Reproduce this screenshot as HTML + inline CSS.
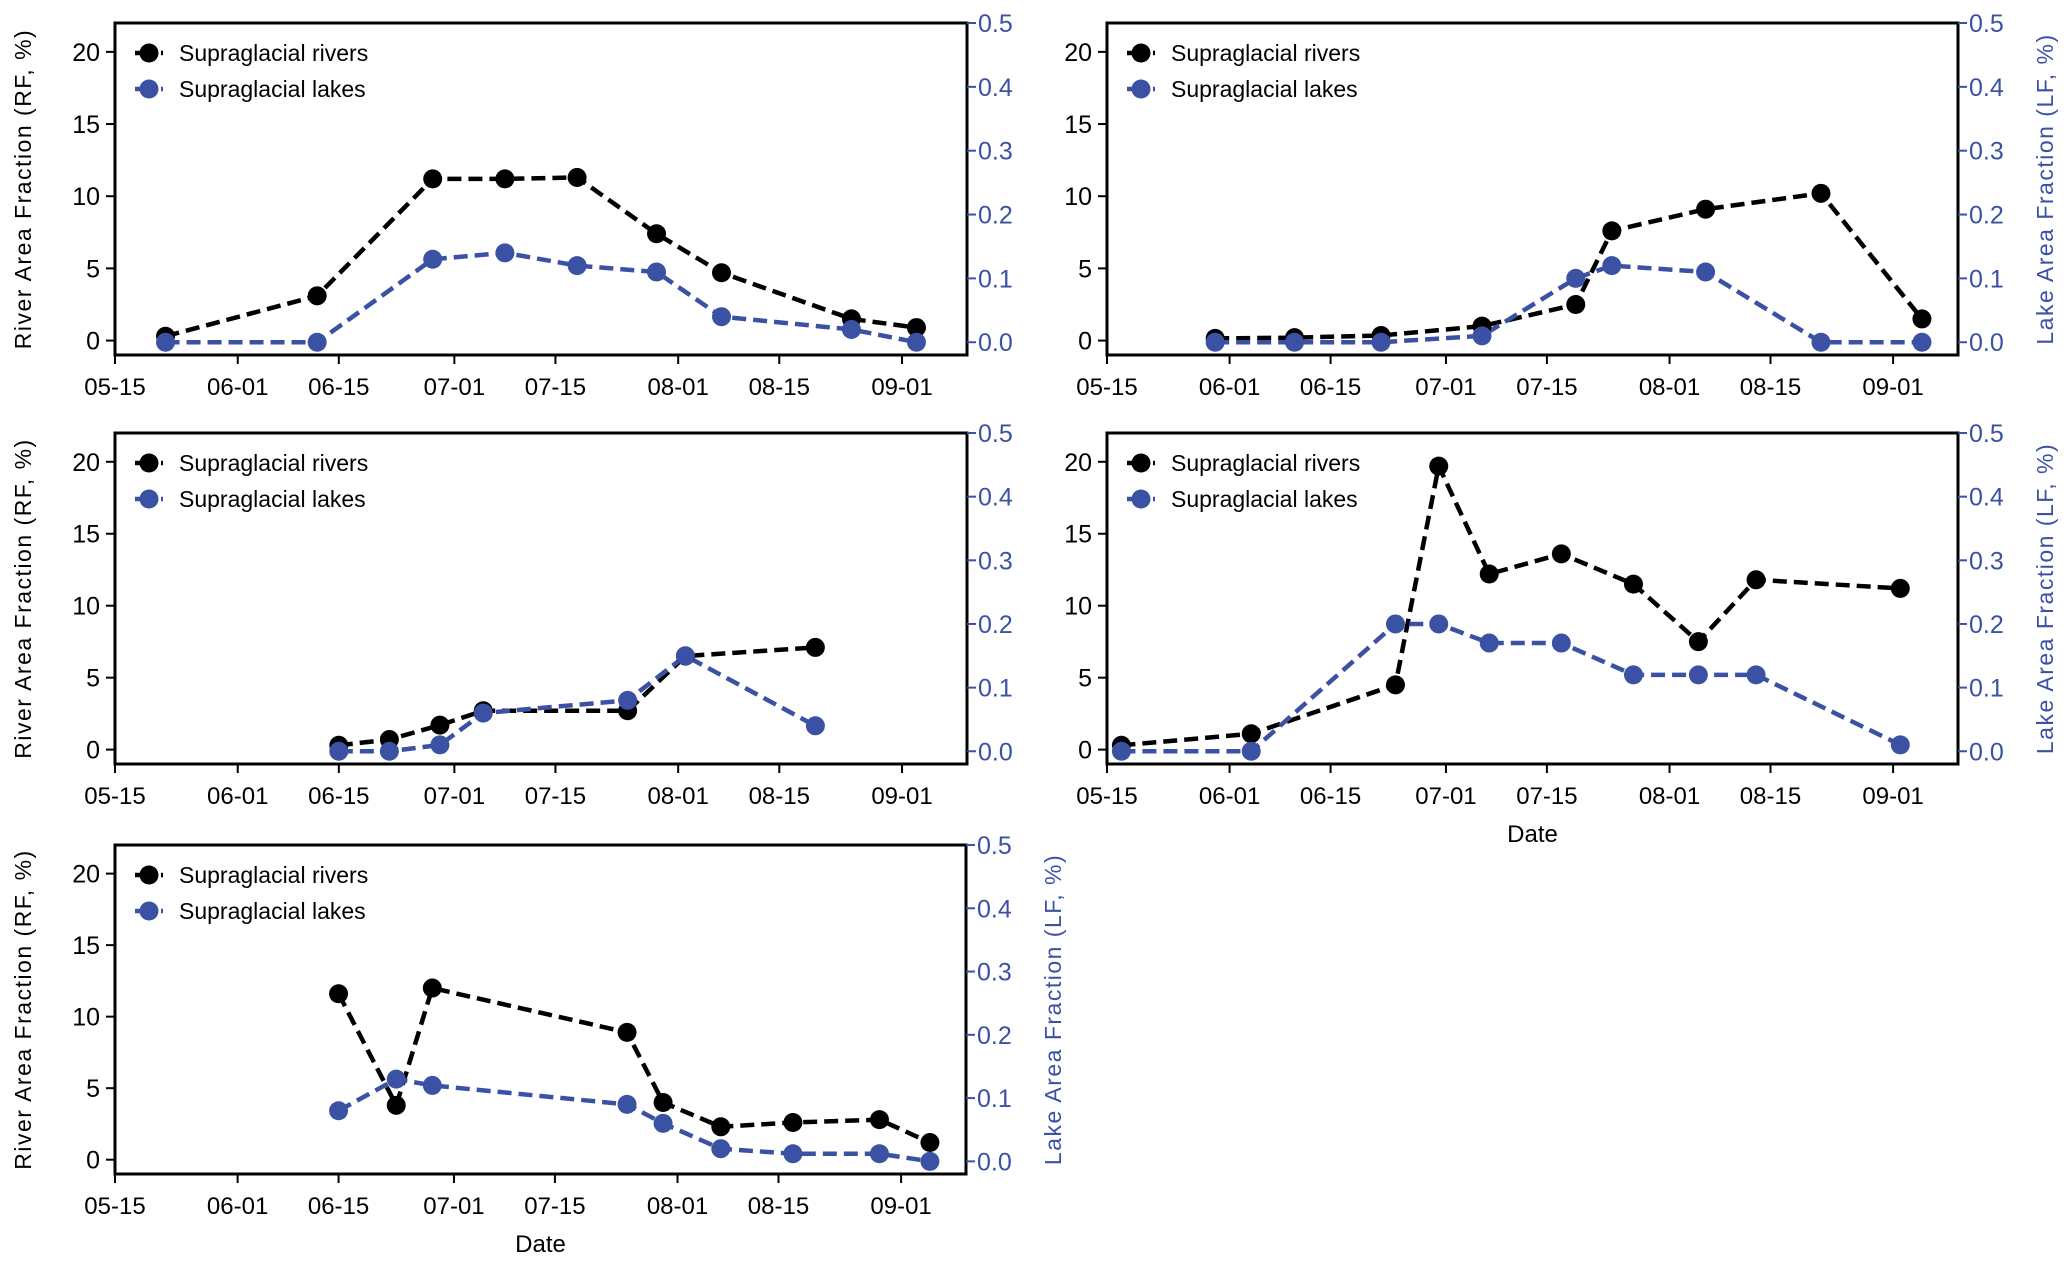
<!DOCTYPE html>
<html><head><meta charset="utf-8"><style>
html,body{margin:0;padding:0;background:#fff;}
svg{display:block;font-family:"Liberation Sans",sans-serif;}
</style></head><body>
<svg id="chart" width="2067" height="1270" viewBox="0 0 2067 1270"></svg>
<script>
// x values: days since May 15
const xTickLabels = ["05-15","06-01","06-15","07-01","07-15","08-01","08-15","09-01"];
const xTickDays = [0,17,31,47,61,78,92,109];
const leftTicks = [0,5,10,15,20];
const rightTicks = [0.0,0.1,0.2,0.3,0.4,0.5];
const rightTickLabels = ["0.0","0.1","0.2","0.3","0.4","0.5"];

const p1Days = [7,28,44,54,64,75,84,102,111];
const p1Rivers = [0.3,3.1,11.2,11.2,11.3,7.4,4.7,1.5,0.9];
const p1Lakes = [0.0,0.0,0.13,0.14,0.12,0.11,0.04,0.02,0.0];

const p2Days = [15,26,38,52,65,70,83,99,113];
const p2Rivers = [0.15,0.2,0.35,1.0,2.5,7.6,9.1,10.2,1.5];
const p2Lakes = [0.0,0.0,0.0,0.01,0.1,0.12,0.11,0.0,0.0];

const p3Days = [31,38,45,51,71,79,97];
const p3Rivers = [0.3,0.7,1.7,2.7,2.7,6.5,7.1];
const p3Lakes = [0.0,0.0,0.01,0.06,0.08,0.15,0.04];

const p4Days = [2,20,40,46,53,63,73,82,90,110];
const p4Rivers = [0.3,1.1,4.5,19.7,12.2,13.6,11.5,7.5,11.8,11.2];
const p4Lakes = [0.0,0.0,0.2,0.2,0.17,0.17,0.12,0.12,0.12,0.01];

const p5Days = [31,39,44,71,76,84,94,106,113];
const p5Rivers = [11.6,3.8,12.0,8.9,4.0,2.3,2.6,2.8,1.2];
const p5Lakes = [0.08,0.13,0.12,0.09,0.06,0.02,0.012,0.012,0.0];

const NS="http://www.w3.org/2000/svg";
const svg=document.getElementById('chart');
const BLUE="#3a51a4";
function mk(tag,attrs,parent){const e=document.createElementNS(NS,tag);for(const k in attrs)e.setAttribute(k,attrs[k]);(parent||svg).appendChild(e);return e;}

function panel(id,L,T,R,B,days,rivers,lakes,opts){
  const g=mk('g',{});
  
  
  const xs=d=>L+d*(R-L)/118;
  const yl=v=>B-(v+1)/23*(B-T);
  const yr=v=>B-(v+0.02)/0.52*(B-T);
  const fr=mk('rect',{x:L,y:T,width:R-L,height:B-T,fill:'none',stroke:'#000','stroke-width':3},g);
  
  
  xTickDays.forEach((d,i)=>{
    const x=xs(d);
    mk('line',{x1:x,y1:B,x2:x,y2:B+9,stroke:'#000','stroke-width':2},g);
    const t=mk('text',{x:x,y:B+40,'text-anchor':'middle','font-size':24,fill:'#000'},g);
    t.textContent=xTickLabels[i];
    
    
  });
  leftTicks.forEach(v=>{
    const y=yl(v);
    mk('line',{x1:L-9,y1:y,x2:L,y2:y,stroke:'#000','stroke-width':2},g);
    const t=mk('text',{x:L-15,y:y+9,'text-anchor':'end','font-size':25,fill:'#000'},g);
    t.textContent=String(v);
    
    
  });
  rightTicks.forEach((v,i)=>{
    const y=yr(v);
    mk('line',{x1:R,y1:y,x2:R+9,y2:y,stroke:BLUE,'stroke-width':2},g);
    const t=mk('text',{x:R+11,y:y+9,'text-anchor':'start','font-size':25,fill:BLUE},g);
    t.textContent=rightTickLabels[i];
    
    
  });
  if(opts.leftLabel){
    const cy=(T+B)/2;
    const t=mk('text',{x:0,y:0,transform:`translate(${L-84},${cy}) rotate(-90)`,'text-anchor':'middle','font-size':23,'letter-spacing':'1.5',fill:'#000'},g);
    t.textContent="River Area Fraction (RF, %)";
    
    
  }
  if(opts.rightLabel){
    const cy=(T+B)/2;
    const t=mk('text',{x:0,y:0,transform:`translate(${R+95},${cy}) rotate(-90)`,'text-anchor':'middle','font-size':23,'letter-spacing':'1.5',fill:BLUE},g);
    t.textContent="Lake Area Fraction (LF, %)";
    
    
  }
  if(opts.dateLabel){
    const t=mk('text',{x:(L+R)/2,y:B+78,'text-anchor':'middle','font-size':24,fill:'#000'},g);
    t.textContent="Date";
    
    
  }
  const series=[[rivers,yl,'#000','rivers'],[lakes,yr,BLUE,'lakes']];
  series.forEach(([vals,ys,col,nm])=>{
    const pts=days.map((d,i)=>xs(d)+','+ys(vals[i])).join(' ');
    const pl=mk('polyline',{points:pts,fill:'none',stroke:col,'stroke-width':4.5,'stroke-dasharray':'14,7'},g);
    
    
  });
  series.forEach(([vals,ys,col,nm])=>{
    days.forEach((d,i)=>{
      const c=mk('circle',{cx:xs(d),cy:ys(vals[i]),r:9.5,fill:col},g);
      
      
    });
  });
  const leg=[['Supraglacial rivers','#000',T+30],['Supraglacial lakes',BLUE,T+66]];
  leg.forEach(([txt,col,y])=>{
    const lg=mk('g',{},g);
    
    
    mk('line',{x1:L+20,y1:y,x2:L+48,y2:y,stroke:col,'stroke-width':4.5,'stroke-dasharray':'10,3'},lg);
    mk('circle',{cx:L+34,cy:y,r:9.5,fill:col},lg);
    const t=mk('text',{x:L+64,y:y+8,'font-size':23,fill:'#000'},lg);
    t.textContent=txt;
  });
}
panel('panel-1',115,23,967,355,p1Days,p1Rivers,p1Lakes,{leftLabel:true});
panel('panel-2',1107,23,1958,355,p2Days,p2Rivers,p2Lakes,{rightLabel:true});
panel('panel-3',115,433,967,764,p3Days,p3Rivers,p3Lakes,{leftLabel:true});
panel('panel-4',1107,433,1958,764,p4Days,p4Rivers,p4Lakes,{rightLabel:true,dateLabel:true});
panel('panel-5',115,845,966,1174,p5Days,p5Rivers,p5Lakes,{leftLabel:true,rightLabel:true,dateLabel:true});
</script>
</body></html>
